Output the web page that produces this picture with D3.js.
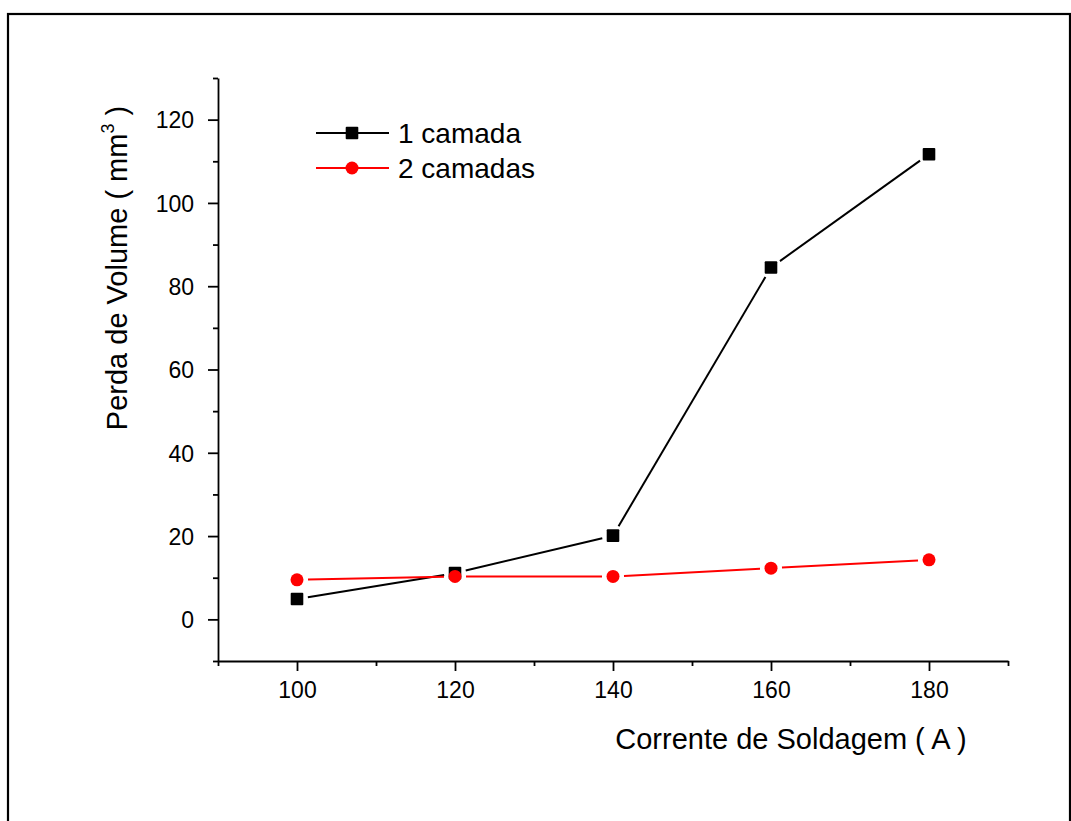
<!DOCTYPE html>
<html>
<head>
<meta charset="utf-8">
<script src="https://cdn.jsdelivr.net/npm/d3@7/dist/d3.min.js"></script>
<style>
  html, body { margin: 0; padding: 0; background: #fff; }
  svg text { font-family: "Liberation Sans", Arial, Helvetica, sans-serif; fill: #000; }
</style>
</head>
<body>
<svg id="chart" width="1071" height="821"></svg>
<script>
// Welding current (A)
const currents = [100, 120, 140, 160, 180];
// Volume loss (mm³) for one and two layers
const umaCamada = [4.9, 11.1, 20.1, 84.5, 111.7];
const duasCamadas = [9.5, 10.3, 10.3, 12.3, 14.3];
const seriesNames = ["1 camada", "2 camadas"];
const xTicks = [100, 120, 140, 160, 180];
const yTicks = [0, 20, 40, 60, 80, 100, 120];

const svg = d3.select("#chart");

// outer frame
svg.append("rect")
  .attr("x", 8).attr("y", 14)
  .attr("width", 1062).attr("height", 830)
  .attr("fill", "none").attr("stroke", "#000").attr("stroke-width", 2.2);

const x = d3.scaleLinear().domain([90, 190]).range([218, 1008]);
const y = d3.scaleLinear().domain([-10, 130]).range([661, 78]);

// axes: major ticks every 20, minor every 10
const xAxis = svg.append("g").attr("transform", "translate(0,661)");
xAxis.call(d3.axisBottom(x).tickValues(d3.range(90, 191, 10)).tickFormat("").tickSizeInner(5).tickSizeOuter(0));
xAxis.call(g => g.selectAll(".tick").filter(d => xTicks.includes(d)).select("line").attr("y2", 10));
xAxis.selectAll(".tick").filter(d => xTicks.includes(d)).append("text")
  .attr("y", 37).attr("text-anchor", "middle")
  .style("font-size", "23px").text(d => d);

const yAxis = svg.append("g").attr("transform", "translate(218,0)");
yAxis.call(d3.axisLeft(y).tickValues(d3.range(-10, 131, 10)).tickFormat("").tickSizeInner(5).tickSizeOuter(0));
yAxis.call(g => g.selectAll(".tick").filter(d => yTicks.includes(d)).select("line").attr("x2", -10));
yAxis.selectAll(".tick").filter(d => yTicks.includes(d)).append("text")
  .attr("x", -24).attr("dy", "0.36em").attr("text-anchor", "end")
  .style("font-size", "23px").text(d => d);

[xAxis, yAxis].forEach(g => {
  g.select(".domain").attr("stroke", "#000").attr("stroke-width", 1.8);
  g.selectAll(".tick line").attr("stroke", "#000").attr("stroke-width", 1.8);
});

// axis titles
svg.append("text")
  .attr("x", 791).attr("y", 749).attr("text-anchor", "middle")
  .style("font-size", "29px")
  .text("Corrente de Soldagem ( A )");

const yTitle = svg.append("text")
  .attr("transform", "translate(127,268) rotate(-90)")
  .attr("text-anchor", "middle")
  .style("font-size", "29px");
yTitle.append("tspan").text("Perda de Volume ( mm");
yTitle.append("tspan").attr("dy", -13).style("font-size", "18px").text("3");
yTitle.append("tspan").attr("dy", 13).text(" )");

// line segments trimmed short of each marker
function drawSeries(vals, color, gap) {
  const pts = currents.map((c, i) => [x(c), y(vals[i])]);
  const g = svg.append("g");
  for (let i = 0; i < pts.length - 1; i++) {
    const [x0, y0] = pts[i], [x1, y1] = pts[i + 1];
    const len = Math.hypot(x1 - x0, y1 - y0);
    const ux = (x1 - x0) / len, uy = (y1 - y0) / len;
    g.append("line")
      .attr("x1", x0 + ux * gap).attr("y1", y0 + uy * gap)
      .attr("x2", x1 - ux * gap).attr("y2", y1 - uy * gap)
      .attr("stroke", color).attr("stroke-width", 2);
  }
  return pts;
}

const ptsA = drawSeries(umaCamada, "#000", 11);
const ptsB = drawSeries(duasCamadas, "#ff0000", 11);

svg.append("g").selectAll("rect").data(ptsA).join("rect")
  .attr("x", d => d[0] - 6.3).attr("y", d => d[1] - 6.3)
  .attr("width", 12.6).attr("height", 12.6).attr("rx", 1)
  .attr("fill", "#000");

svg.append("g").selectAll("circle").data(ptsB).join("circle")
  .attr("cx", d => d[0]).attr("cy", d => d[1]).attr("r", 6.5)
  .attr("fill", "#ff0000");

// legend
const legend = svg.append("g");
const legendRows = [
  { name: seriesNames[0], color: "#000", shape: "square", y: 133 },
  { name: seriesNames[1], color: "#ff0000", shape: "circle", y: 168 }
];
legendRows.forEach(r => {
  legend.append("line").attr("x1", 316).attr("x2", 389)
    .attr("y1", r.y).attr("y2", r.y)
    .attr("stroke", r.color).attr("stroke-width", 2);
  if (r.shape === "square") {
    legend.append("rect").attr("x", 345.7).attr("y", r.y - 6.3)
      .attr("width", 12.6).attr("height", 12.6).attr("rx", 1).attr("fill", r.color);
  } else {
    legend.append("circle").attr("cx", 352).attr("cy", r.y).attr("r", 6.5).attr("fill", r.color);
  }
  legend.append("text").attr("x", 398).attr("y", r.y).attr("dy", "0.36em")
    .style("font-size", "28px").text(r.name);
});
</script>
</body>
</html>
